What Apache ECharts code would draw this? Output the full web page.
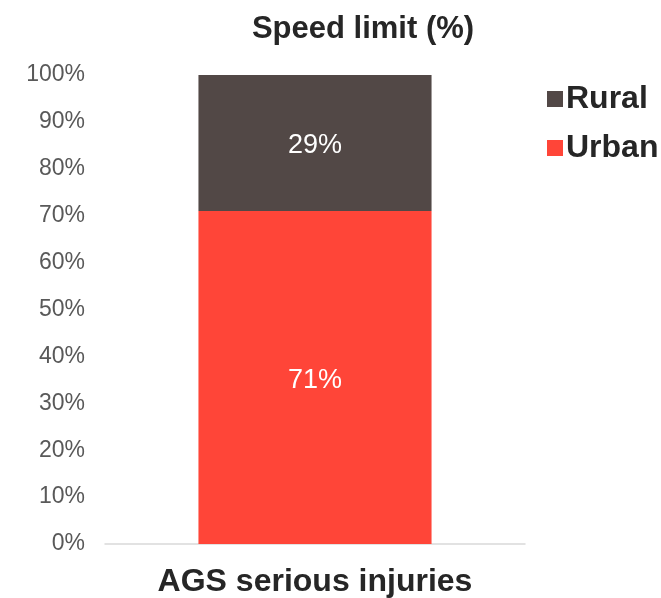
<!DOCTYPE html>
<html>
<head>
<meta charset="utf-8">
<script src="https://cdn.jsdelivr.net/npm/echarts@6/dist/echarts.min.js"></script>
<style>
html,body{margin:0;padding:0;background:#fff;}
#chart{width:661px;height:598px;}
</style>
</head>
<body>
<div id="chart"></div>
<script>
// 数据
var categories = ['AGS serious injuries'];
var seriesNames = ['Rural', 'Urban'];
var urban = [71];
var rural = [29];

var chart = echarts.init(document.getElementById('chart'));
var font = '"Liberation Sans", Arial, sans-serif';

var option = {
	animation: false,
	title: {
		text: 'Speed limit (%)',
		left: 358,
		textAlign: 'center',
		top: 9,
		textStyle: {fontFamily: font, fontSize: 31, fontWeight: 'bold', color: '#262626'}
	},
	legend: {
		data: seriesNames,
		orient: 'vertical',
		left: 542,
		top: 78,
		itemWidth: 16,
		itemHeight: 16,
		itemGap: 17,
		icon: 'rect',
		textStyle: {fontFamily: font, fontSize: 32, fontWeight: 'bold', color: '#262626', padding: [0, 0, 0, -2]}
	},
	grid: {
		left: 105,
		right: 136,
		top: 75,
		bottom: 53
	},
	xAxis: {
		type: 'category',
		data: categories,
		axisTick: {show: false},
		axisLine: {lineStyle: {color: '#d9d9d9', width: 1.5}},
		axisLabel: {fontFamily: font, fontSize: 32, fontWeight: 'bold', color: '#262626', margin: 22}
	},
	yAxis: {
		type: 'value',
		min: 0,
		max: 100,
		interval: 10,
		splitLine: {show: false},
		axisLine: {show: false},
		axisTick: {show: false},
		axisLabel: {formatter: '{value}%', fontFamily: font, fontSize: 23, lineHeight: 23, color: '#595959', margin: 20, padding: [7, 0, 0, 0]}
	},
	series: [
		{
			name: 'Urban',
			type: 'bar',
			stack: 'total',
			barWidth: '55.5%',
			data: urban,
			itemStyle: {color: '#ff4538'},
			label: {show: true, position: 'inside', offset: [0, 3], formatter: '{c}%', color: '#fff', fontFamily: font, fontSize: 27}
		},
		{
			name: 'Rural',
			type: 'bar',
			stack: 'total',
			data: rural,
			itemStyle: {color: '#524846'},
			label: {show: true, position: 'inside', offset: [0, 3], formatter: '{c}%', color: '#fff', fontFamily: font, fontSize: 27}
		}
	]
};
chart.setOption(option);
</script>
</body>
</html>
